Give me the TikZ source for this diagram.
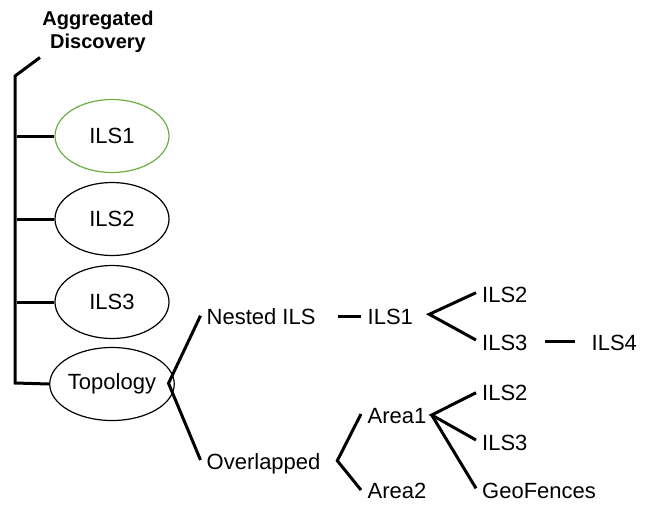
\documentclass[tikz,border=0pt]{standalone}
\usepackage{fontspec}
\setmainfont{Liberation Sans}
\usetikzlibrary{shapes.geometric}
\definecolor{leafgreen}{RGB}{108,173,70}
\begin{document}
\begin{tikzpicture}[x=1pt,y=-1pt,
  branch/.style={line width=3pt,line cap=butt,line join=miter},
  oval/.style={draw,ellipse,line width=1.2pt,minimum width=114pt,minimum height=73pt,inner sep=0pt,font=\fontsize{22}{24}\selectfont},
  label/.style={anchor=base west,inner sep=0pt,font=\fontsize{22}{24}\selectfont}]
\useasboundingbox (0,0) rectangle (648,504);

% root title (base anchor sits on the last line)
\node[align=center,inner sep=0pt,font=\bfseries\fontsize{20}{23.3}\selectfont,anchor=base] (root) at (98,48.3) {Aggregated\\Discovery};

% first-level ovals
\node[oval,draw=leafgreen] (o1) at (112,136) {ILS1};
\node[oval] (o2) at (112,219) {ILS2};
\node[oval] (o3) at (112,302) {ILS3};
\node[oval] (topo) at (112,384) {Topology};

% trunk of the tree
\coordinate (rtip) at (40,57.5);
\coordinate (rtop) at (15,76);
\coordinate (rbot) at (15,383);
\draw[branch] (rtip) -- (rtop) -- (rbot) -- (topo.west);
\foreach \o in {o1,o2,o3}
  \draw[branch] (\o.west) -- ++(-37,0);

% second level
\node[label] (nested) at (206.5,324) {Nested ILS};
\node[label] (over) at (206.5,469.3) {Overlapped};
\coordinate (topoJ) at (168.5,383.3);
\draw[branch] ([shift={(-6,-8.3)}]nested.base west) -- (topoJ) -- ([shift={(-6,-9.3)}]over.base west);

% nested branch
\node[label] (n1ils) at (367.5,324) {ILS1};
\node[label] (n2ils) at (482,302.7) {ILS2};
\node[label] (n3ils) at (482,350.7) {ILS3};
\node[label] (n4ils) at (591.5,350.7) {ILS4};
\draw[branch] ([shift={(-7,-8)}]n1ils.base west) -- ++(-23,0);
\coordinate (ilsJ) at (429.3,314.3);
\draw[branch] ([shift={(-6,-10)}]n2ils.base west) -- (ilsJ) -- ([shift={(-6,-10.7)}]n3ils.base west);
\draw[branch] ([shift={(-16.5,-9)}]n4ils.base west) -- ++(-30,0);

% overlapped branch
\node[label] (area1) at (367.5,423.2) {Area1};
\node[label] (area2) at (367.5,498.3) {Area2};
\coordinate (overJ) at (337.3,460.7);
\draw[branch] ([shift={(-6.5,-9.2)}]area1.base west) -- (overJ) -- ([shift={(-6.5,-8.3)}]area2.base west);
\node[label] (a2ils) at (482,400.7) {ILS2};
\node[label] (a3ils) at (482,450) {ILS3};
\node[label] (geo) at (482,498.3) {GeoFences};
\coordinate (areaJ) at (431.7,415);
\draw[branch] ([shift={(-6,-8)}]a2ils.base west) -- (areaJ) -- ([shift={(-6,-10)}]a3ils.base west);
\draw[branch] (areaJ) -- ([shift={(-6,-10)}]geo.base west);
\end{tikzpicture}
\end{document}
